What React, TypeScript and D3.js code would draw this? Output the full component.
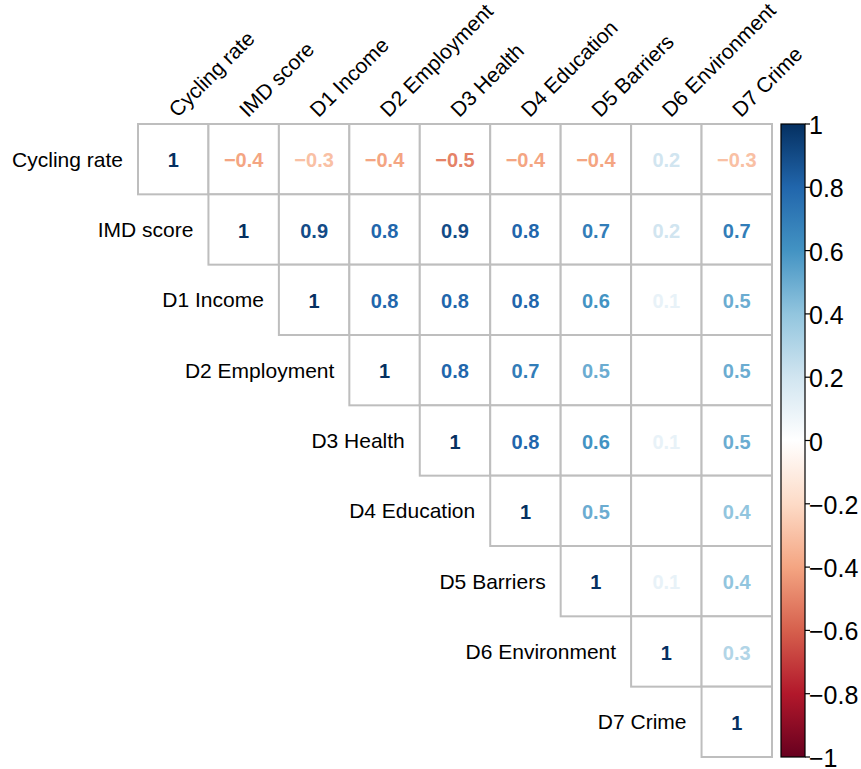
import { useEffect, useRef } from "react";
import * as d3 from "d3";

// Variable names (rows and columns)
const variables = [
  "Cycling rate",
  "IMD score",
  "D1 Income",
  "D2 Employment",
  "D3 Health",
  "D4 Education",
  "D5 Barriers",
  "D6 Environment",
  "D7 Crime",
];

// Upper triangle of the correlation matrix, each row starts at the diagonal
const corrRows = [
  [1, -0.4, -0.3, -0.4, -0.5, -0.4, -0.4, 0.2, -0.3],
  [1, 0.9, 0.8, 0.9, 0.8, 0.7, 0.2, 0.7],
  [1, 0.8, 0.8, 0.8, 0.6, 0.1, 0.5],
  [1, 0.8, 0.7, 0.5, 0, 0.5],
  [1, 0.8, 0.6, 0.1, 0.5],
  [1, 0.5, 0, 0.4],
  [1, 0.1, 0.4],
  [1, 0.3],
  [1],
];

// RdBu palette (corrplot COL2)
const palette = [
  "#67001F", "#B2182B", "#D6604D", "#F4A582", "#FDDBC7", "#FFFFFF",
  "#D1E5F0", "#92C5DE", "#4393C3", "#2166AC", "#053061",
];

const legendTicks = [1, 0.8, 0.6, 0.4, 0.2, 0, -0.2, -0.4, -0.6, -0.8, -1];

const fmt = (v: number) => {
  const s = v === 0 ? "0" : Number.isInteger(v) ? String(v) : v.toFixed(1);
  return s.replace("-", "\u2212");
};

export default function App() {
  const svgRef = useRef<SVGSVGElement>(null);

  useEffect(() => {
    if (!svgRef.current) return;
    const svg = d3.select(svgRef.current);
    const width = 861;
    const height = 769;
    svg.selectAll("*").remove();
    svg.attr("width", width).attr("height", height);

    const font = "Liberation Sans, Arial, Helvetica, sans-serif";

    const x = d3.scaleBand<string>().domain(variables).range([138, 772]);
    const y = d3.scaleBand<string>().domain(variables).range([124, 757]);

    const color = d3
      .scaleLinear<string>()
      .domain(d3.range(11).map((k) => -1 + k * 0.2))
      .range(palette)
      .interpolate(d3.interpolateRgb);

    const cells: { r: string; c: string; v: number }[] = [];
    corrRows.forEach((row, i) => {
      row.forEach((v, k) => {
        cells.push({ r: variables[i], c: variables[i + k], v });
      });
    });

    // Cell grid
    svg
      .append("g")
      .selectAll("rect")
      .data(cells)
      .join("rect")
      .attr("x", (d) => x(d.c)!)
      .attr("y", (d) => y(d.r)!)
      .attr("width", x.bandwidth())
      .attr("height", y.bandwidth())
      .attr("fill", "white")
      .attr("stroke", "#BEBEBE")
      .attr("stroke-width", 2);

    // Values
    svg
      .append("g")
      .selectAll("text")
      .data(cells)
      .join("text")
      .attr("x", (d) => x(d.c)! + x.bandwidth() / 2)
      .attr("y", (d) => y(d.r)! + y.bandwidth() / 2 + 1)
      .attr("text-anchor", "middle")
      .attr("dominant-baseline", "central")
      .attr("font-family", font)
      .attr("font-weight", "bold")
      .attr("font-size", "20px")
      .attr("fill", (d) => color(d.v))
      .text((d) => fmt(d.v));

    // Row labels
    svg
      .append("g")
      .selectAll("text")
      .data(variables)
      .join("text")
      .attr("x", (d) => x(d)! - 15)
      .attr("y", (d) => y(d)! + y.bandwidth() / 2)
      .attr("text-anchor", "end")
      .attr("dominant-baseline", "central")
      .attr("font-family", font)
      .attr("font-size", "21px")
      .attr("fill", "black")
      .text((d) => d);

    // Column labels (rotated)
    svg
      .append("g")
      .selectAll("text")
      .data(variables)
      .join("text")
      .attr("transform", (d) => {
        const cx = x(d)! + x.bandwidth() / 2;
        return `translate(${cx - 1},${124 - 11}) rotate(-45)`;
      })
      .attr("text-anchor", "start")
      .attr("dominant-baseline", "central")
      .attr("font-family", font)
      .attr("font-size", "21px")
      .attr("fill", "black")
      .text((d) => d);

    // Colour legend
    const barX = 781;
    const barW = 24;
    const ly = d3.scaleLinear().domain([-1, 1]).range([757, 124]);

    const grad = svg
      .append("defs")
      .append("linearGradient")
      .attr("id", "rdbu")
      .attr("x1", 0)
      .attr("y1", 1)
      .attr("x2", 0)
      .attr("y2", 0);
    palette.forEach((c, k) => {
      grad
        .append("stop")
        .attr("offset", k / (palette.length - 1))
        .attr("stop-color", c);
    });

    svg
      .append("rect")
      .attr("x", barX)
      .attr("y", ly(1))
      .attr("width", barW)
      .attr("height", ly(-1) - ly(1))
      .attr("fill", "url(#rdbu)")
      .attr("stroke", "black")
      .attr("stroke-width", 1.2);

    const lg = svg.append("g");
    legendTicks.forEach((t) => {
      lg.append("line")
        .attr("x1", barX + barW)
        .attr("x2", barX + barW + 5)
        .attr("y1", ly(t))
        .attr("y2", ly(t))
        .attr("stroke", "black")
        .attr("stroke-width", 1.2);
      lg.append("text")
        .attr("x", barX + barW + 4)
        .attr("y", ly(t) + 1)
        .attr("dominant-baseline", "central")
        .attr("font-family", font)
        .attr("font-size", "25px")
        .attr("fill", "black")
        .text(fmt(t));
    });
  }, []);

  return (
    <svg
      ref={svgRef}
      style={{ position: "absolute", left: 0, top: 0, display: "block" }}
    ></svg>
  );
}
